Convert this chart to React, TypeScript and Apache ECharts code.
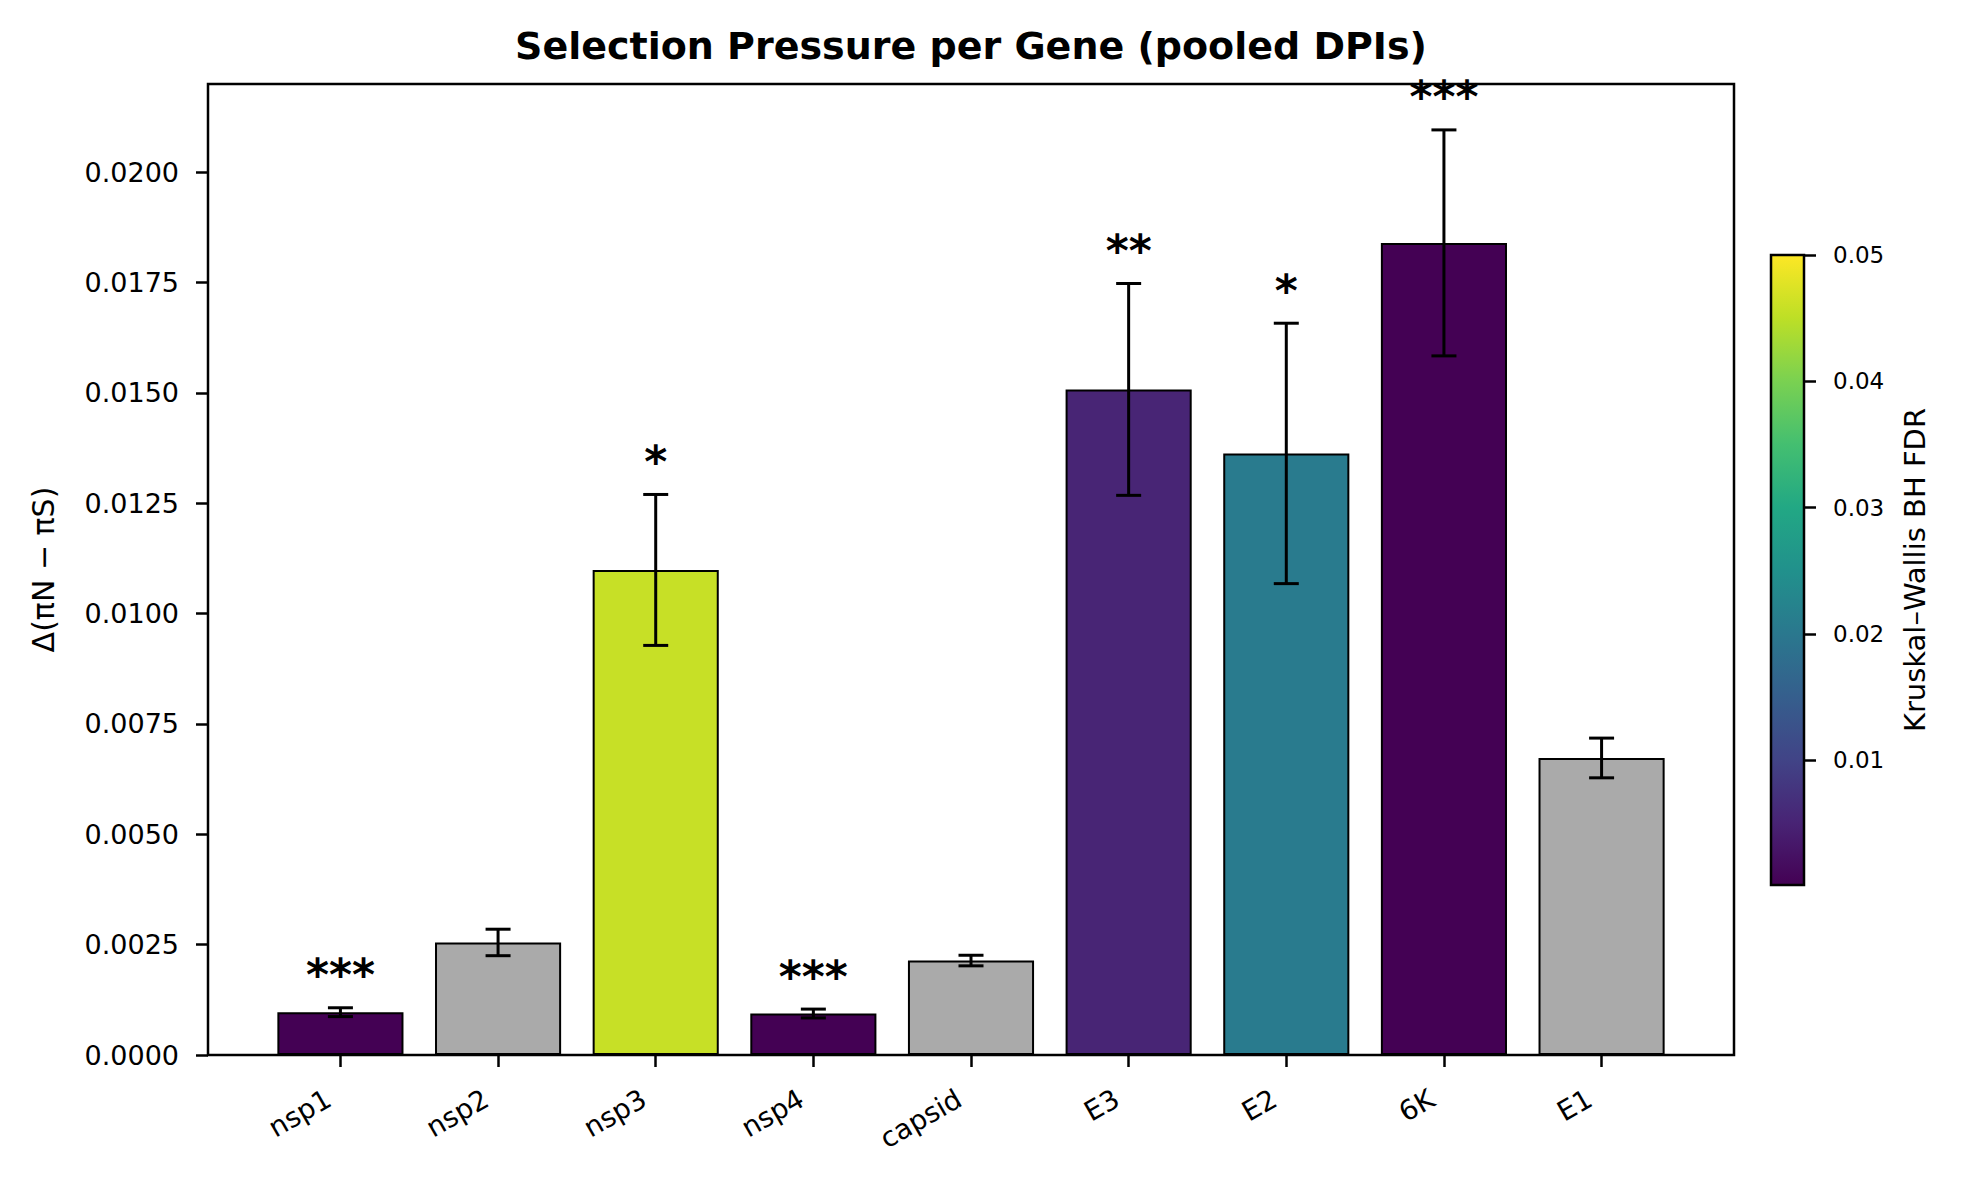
import React, { useEffect, useRef } from "react";
import * as echarts from "echarts";

const GENES = ["nsp1", "nsp2", "nsp3", "nsp4", "capsid", "E3", "E2", "6K", "E1"];
const MEANS = [0.00097, 0.00255, 0.01099, 0.00094, 0.00214, 0.01508, 0.01363, 0.0184, 0.00673];
const ERRS = [0.0001, 0.0003, 0.00171, 0.0001, 0.00012, 0.0024, 0.00295, 0.00256, 0.00045];
const FDR = [0.0001, 0.12, 0.0458, 0.0001, 0.35, 0.0052, 0.0206, 0.0001, 0.08];
const STARS = ["***", "", "*", "***", "", "**", "*", "***", ""];
const Y_TICKS = [0, 0.0025, 0.005, 0.0075, 0.01, 0.0125, 0.015, 0.0175, 0.02];
const Y_MAX = 0.022;
const CB_MIN = 0.0001;
const CB_MAX = 0.05;
const CB_TICKS = [0.01, 0.02, 0.03, 0.04, 0.05];
const VIRIDIS = [
  "#440154", "#482475", "#414487", "#355f8d", "#2a788e", "#21918c",
  "#22a884", "#44bf70", "#7ad151", "#bddf26", "#fde725",
];
const NS_COLOR = "#aaaaaa";

const FONT = '"DejaVu Sans", sans-serif';

function fdrColor(p: number): string {
  if (p > CB_MAX) return NS_COLOR;
  const t = Math.max(0, Math.min(1, (p - CB_MIN) / (CB_MAX - CB_MIN)));
  return (echarts as any).color.lerp(t, VIRIDIS);
}

export default function App() {
  const ref = useRef<HTMLDivElement>(null);
  useEffect(() => {
    document.body.style.margin = "0";
    const chart = echarts.init(ref.current!, null, { renderer: "svg" });

    const frame = { x: 208, y: 84, w: 1526, h: 971 };
    const unit = frame.w / 9.68;
    const gridLeft = frame.x + 0.34 * unit;
    const gridW = 9 * unit;
    const cb = { x: 1771, y: 255, w: 33, h: 630 };

    const option: any = {
      animation: false,
      textStyle: { fontFamily: FONT, color: "#000" },
      title: {
        text: "Selection Pressure per Gene (pooled DPIs)",
        left: frame.x + frame.w / 2,
        top: 46,
        padding: 0,
        textAlign: "center",
        textVerticalAlign: "middle",
        textStyle: { fontFamily: FONT, fontSize: 38, fontWeight: "bold", color: "#000" },
      },
      grid: [
        { left: gridLeft, top: frame.y, width: gridW, height: frame.h },
        { left: cb.x, top: cb.y, width: cb.w, height: cb.h },
      ],
      xAxis: [
        {
          type: "category",
          gridIndex: 0,
          data: GENES,
          axisLine: { show: false },
          axisTick: { show: true, alignWithLabel: true, length: 12, lineStyle: { color: "#000", width: 2.5 } },
          axisLabel: {
            interval: 0,
            rotate: 30,
            fontSize: 27.5,
            color: "#000",
            fontFamily: FONT,
            margin: 34,
            padding: [0, 14, 0, 0],
          },
          splitLine: { show: false },
        },
        { type: "category", gridIndex: 1, data: ["cb"], show: false },
      ],
      yAxis: [
        {
          type: "value",
          gridIndex: 0,
          min: 0,
          max: Y_MAX,
          offset: gridLeft - frame.x,
          name: "Δ(πN − πS)",
          nameLocation: "middle",
          nameRotate: 90,
          nameGap: 150,
          nameTextStyle: { fontSize: 30, color: "#000", fontFamily: FONT },
          axisLine: { show: false },
          axisTick: { show: true, customValues: Y_TICKS, length: 12, lineStyle: { color: "#000", width: 2.5 } },
          axisLabel: {
            customValues: Y_TICKS,
            fontSize: 27,
            color: "#000",
            fontFamily: FONT,
            margin: 29,
            formatter: (v: number) => v.toFixed(4),
          },
          splitLine: { show: false },
        },
        {
          type: "value",
          gridIndex: 1,
          position: "right",
          min: CB_MIN,
          max: CB_MAX,
          name: "Kruskal–Wallis BH FDR",
          nameLocation: "middle",
          nameRotate: 90,
          nameGap: 96,
          nameTextStyle: { fontSize: 29, color: "#000", fontFamily: FONT },
          axisLine: { show: false },
          axisTick: { show: true, customValues: CB_TICKS, length: 12, lineStyle: { color: "#000", width: 2.5 } },
          axisLabel: {
            customValues: CB_TICKS,
            fontSize: 23,
            color: "#000",
            fontFamily: FONT,
            margin: 29,
            formatter: (v: number) => v.toFixed(2),
          },
          splitLine: { show: false },
        },
      ],
      series: [
        {
          type: "bar",
          xAxisIndex: 0,
          yAxisIndex: 0,
          barWidth: "80%",
          data: GENES.map((g, i) => ({
            value: MEANS[i],
            itemStyle: { color: fdrColor(FDR[i]), borderColor: "#000", borderWidth: 2 },
          })),
          z: 2,
        },
        {
          type: "custom",
          xAxisIndex: 0,
          yAxisIndex: 0,
          encode: { x: 0, y: 1 },
          data: GENES.map((g, i) => [i, MEANS[i], ERRS[i]]),
          z: 5,
          renderItem: (params: any, api: any) => {
            const i = api.value(0);
            const m = api.value(1);
            const e = api.value(2);
            const top = api.coord([i, m + e]);
            const bot = api.coord([i, m - e]);
            const x = top[0];
            const ls = { stroke: "#000", lineWidth: 3 };
            const cap = 12.5;
            return {
              type: "group",
              children: [
                { type: "line", shape: { x1: x, y1: top[1], x2: x, y2: bot[1] }, style: ls },
                { type: "line", shape: { x1: x - cap, y1: top[1], x2: x + cap, y2: top[1] }, style: ls },
                { type: "line", shape: { x1: x - cap, y1: bot[1], x2: x + cap, y2: bot[1] }, style: ls },
                {
                  type: "text",
                  x: x,
                  y: top[1] - 33,
                  style: {
                    text: STARS[params.dataIndex],
                    fontSize: 44,
                    fontWeight: "bold",
                    fontFamily: FONT,
                    fill: "#000",
                    align: "center",
                    verticalAlign: "middle",
                  },
                },
              ],
            };
          },
        },
        {
          type: "bar",
          xAxisIndex: 1,
          yAxisIndex: 1,
          barWidth: "100%",
          silent: true,
          data: [
            {
              value: CB_MAX,
              itemStyle: {
                color: new echarts.graphic.LinearGradient(
                  0, 1, 0, 0,
                  VIRIDIS.map((c, k) => ({ offset: k / (VIRIDIS.length - 1), color: c }))
                ),
              },
            },
          ],
        },
      ],
      graphic: [
        {
          type: "rect",
          z: 100,
          silent: true,
          shape: { x: frame.x, y: frame.y, width: frame.w, height: frame.h },
          style: { fill: "none", stroke: "#000", lineWidth: 2.5 },
        },
        {
          type: "rect",
          z: 100,
          silent: true,
          shape: { x: cb.x, y: cb.y, width: cb.w, height: cb.h },
          style: { fill: "none", stroke: "#000", lineWidth: 2.5 },
        },
      ],
    };
    chart.setOption(option);
    return () => chart.dispose();
  }, []);
  return <div ref={ref} style={{ width: 1963, height: 1186 }} />;
}
